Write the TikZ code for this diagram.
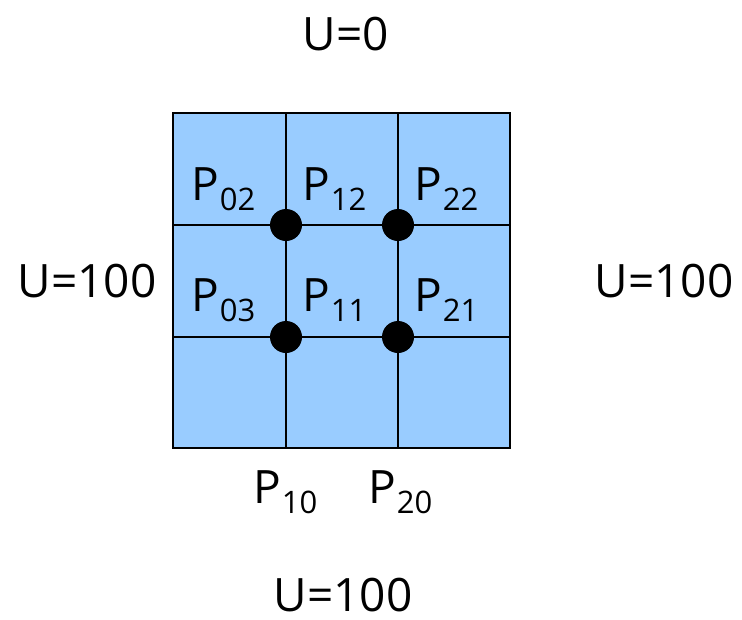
\documentclass[tikz,border=0pt]{standalone}
\usepackage{fontspec}
\setmainfont{Open Sans}
\definecolor{cellblue}{HTML}{99CCFF}
\newcommand{\Psub}[1]{P\kern1pt\raisebox{-10pt}{\fontsize{31}{31}\selectfont #1}}
\tikzset{
  lab/.style={inner sep=0pt, anchor=base, font=\fontsize{46}{46}\selectfont},
  plab/.style={inner sep=0pt, anchor=base west, font=\fontsize{46}{46}\selectfont},
  grid line/.style={line width=2.5pt, black},
  dot/.style={circle, fill=black, inner sep=0pt, minimum size=32pt},
}
\begin{document}
\begin{tikzpicture}[x=1pt,y=-1pt]
\useasboundingbox (0,0) rectangle (742,619);
\fill[cellblue] (173,113) rectangle (510,448);
\draw[grid line] (173,113) rectangle (510,448);
\draw[grid line] (286,113) -- (286,448);
\draw[grid line] (398,113) -- (398,448);
\draw[grid line] (173,225) -- (510,225);
\draw[grid line] (173,337) -- (510,337);
\node[dot] (d1) at (286,225) {};
\node[dot] (d2) at (398,225) {};
\node[dot] (d3) at (286,337) {};
\node[dot] (d4) at (398,337) {};
\node[plab] (p02) at (191,200) {\Psub{02}};
\node[plab] (p12) at (302,200) {\Psub{12}};
\node[plab] (p22) at (414,200) {\Psub{22}};
\node[plab] (p03) at (191,311) {\Psub{03}};
\node[plab] (p11) at (302,311) {\Psub{11}};
\node[plab] (p21) at (414,311) {\Psub{21}};
\node[plab] (p10) at (253,503) {\Psub{10}};
\node[plab] (p20) at (368,503) {\Psub{20}};
\node[lab] (top) at (346,50) {U=0};
\node[lab] (left) at (87,297) {U=100};
\node[lab] (right) at (664,297) {U=100};
\node[lab] (bottom) at (343,611) {U=100};
\end{tikzpicture}
\end{document}
